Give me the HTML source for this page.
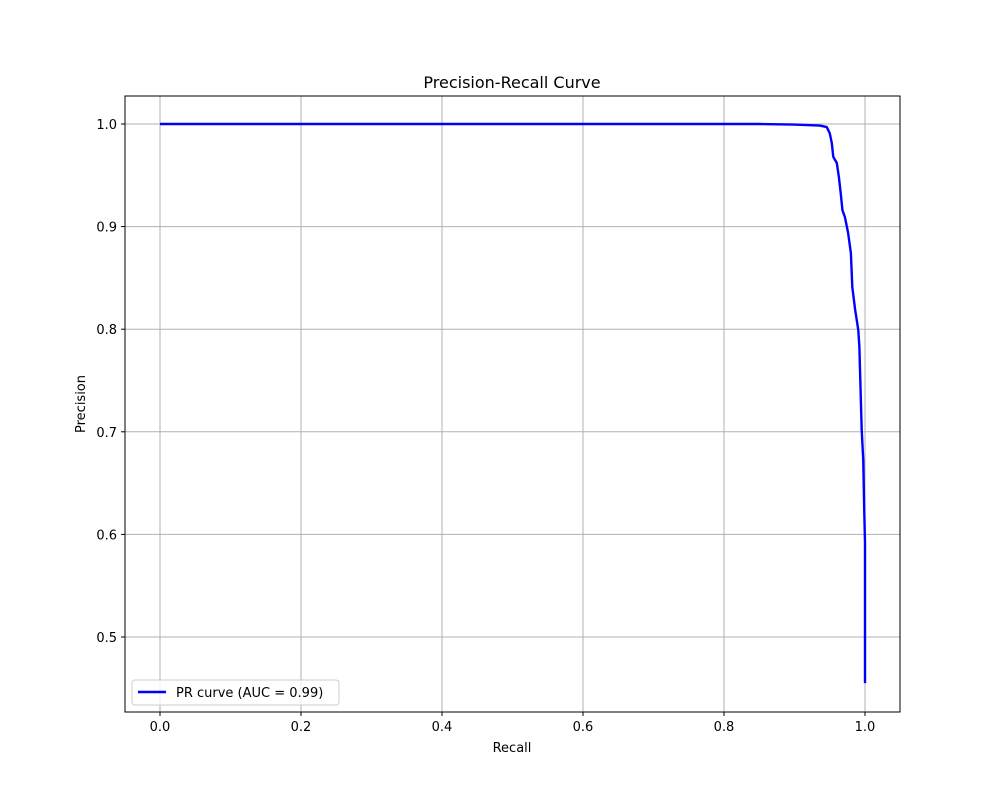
<!DOCTYPE html>
<html><head><meta charset="utf-8"><style>
body{margin:0;background:#fff;}
text{font-family:"DejaVu Sans","Liberation Sans",sans-serif;}
</style></head><body>
<svg id="chart" width="1000" height="800" xmlns="http://www.w3.org/2000/svg">
<rect width="1000" height="800" fill="#fff"/>
<g id="grid"></g>
<g id="ticks"></g>
<path id="curve" fill="none" stroke="#0000ff" stroke-width="2.4" stroke-linejoin="round"/>
<rect x="125" y="96" width="775" height="616" fill="none" stroke="#000" stroke-width="1"/>
<text x="512" y="88" text-anchor="middle" font-size="16">Precision-Recall Curve</text>
<text x="512" y="752" text-anchor="middle" font-size="13">Recall</text>
<text transform="translate(85,404) rotate(-90)" text-anchor="middle" font-size="13">Precision</text>
<g>
<rect x="132" y="680" width="207" height="25" rx="3" fill="#fff" fill-opacity="0.8" stroke="#ccc"/>
<line x1="138" y1="692" x2="166" y2="692" stroke="#0000ff" stroke-width="2.4"/>
<text x="176" y="697" font-size="13">PR curve (AUC = 0.99)</text>
</g>
</svg>
<script>
const recall=[0,0.85,0.9,0.936,0.9457,0.95,0.953,0.955,0.96,0.963,0.9655,0.968,0.9716,0.976,0.98,0.982,0.986,0.9905,0.992,0.994,0.9953,0.9975,0.9989,1.0,1.0];
const precision=[1,1,0.9995,0.9985,0.997,0.991,0.981,0.968,0.962,0.948,0.933,0.916,0.909,0.894,0.874,0.841,0.819,0.799,0.783,0.734,0.702,0.673,0.624,0.592,0.455];
const xTicks=[0,0.2,0.4,0.6,0.8,1.0];
const yTicks=[0.5,0.6,0.7,0.8,0.9,1.0];
const X=v=>160+v*705, Y=v=>124+(1-v)*1026;
const ns="http://www.w3.org/2000/svg";
const grid=document.getElementById('grid'), ticks=document.getElementById('ticks');
function mk(tag,attrs,parent){const e=document.createElementNS(ns,tag);for(const k in attrs)e.setAttribute(k,attrs[k]);parent.appendChild(e);return e;}
xTicks.forEach(t=>{
  const g=mk('line',{x1:X(t),x2:X(t),y1:96,y2:712,stroke:'#b0b0b0','stroke-width':1},grid);
  
  
  mk('line',{x1:X(t),x2:X(t),y1:712,y2:716,stroke:'#000'},ticks);
  const tx=mk('text',{x:X(t),y:731,'text-anchor':'middle','font-size':13},ticks);
  tx.textContent=t.toFixed(1);
  
  
});
yTicks.forEach(t=>{
  const g=mk('line',{x1:125,x2:900,y1:Y(t),y2:Y(t),stroke:'#b0b0b0','stroke-width':1},grid);
  
  
  mk('line',{x1:121,x2:125,y1:Y(t),y2:Y(t),stroke:'#000'},ticks);
  const tx=mk('text',{x:117,y:Y(t)+5,'text-anchor':'end','font-size':13},ticks);
  tx.textContent=t.toFixed(1);
  
  
});
document.getElementById('curve').setAttribute('d',recall.map((r,i)=>(i?'L':'M')+X(r)+','+Y(precision[i])).join(''));
</script>
</body></html>
